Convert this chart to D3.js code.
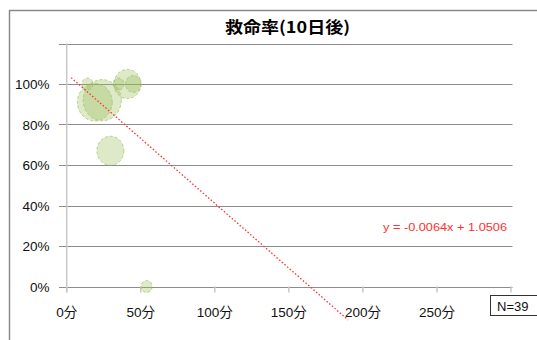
<!DOCTYPE html>
<html><head><meta charset="utf-8">
<script src="https://cdn.jsdelivr.net/npm/d3@7"></script>
<style>
html,body{margin:0;padding:0;background:#fff;}
svg{display:block;}
text{font-family:"Liberation Sans","Noto Sans CJK JP",sans-serif;}
</style></head>
<body>
<script>
const title = "救命率(10日後)";
const times = [14, 19, 24, 35, 41, 45, 29.5, 54];      // 分
const rates = [1.00, 0.91, 0.92, 1.00, 1.00, 1.00, 0.67, 0.00];
const counts = [1, 10, 12, 1, 6, 2, 6, 1];
const xTicks = [0, 50, 100, 150, 200, 250];
const yTicks = [0, 0.2, 0.4, 0.6, 0.8, 1.0, 1.2];
const trendSlope = -0.0064;
const trendIntercept = 1.0506;
const trendRange = [3, 190];
const equationLabel = "y = -0.0064x + 1.0506";
const nLabel = "N=39";

const W = 537, H = 340;
const svg = d3.select("body").append("svg").attr("width", W).attr("height", H);

// chart frame
svg.append("path").attr("d", `M9.5,${H+2} V10.5 H${W+2}`)
  .attr("fill", "none").attr("stroke", "#8a8a8a").attr("stroke-width", 1.5);

const x = d3.scaleLinear().domain([0, 300]).range([66.7, 511]);
const y = d3.scaleLinear().domain([0, 1.2]).range([286.5, 43.5]);
const r = d3.scaleSqrt().domain([0, 1]).range([0, 5.5]);

// title
svg.append("text").attr("x", 287.5).attr("y", 32.5).attr("text-anchor", "middle")
  .attr("font-size", 16).attr("font-weight", "bold").attr("fill", "#000")
  .attr("textLength", 125).attr("lengthAdjust", "spacingAndGlyphs")
  .style("font-family", "'Noto Sans CJK JP',sans-serif")
  .text(title);

// gridlines
svg.append("g").selectAll("line").data(yTicks).join("line")
  .attr("x1", 59).attr("x2", 512.5)
  .attr("y1", d => Math.round(y(d)) + 0.5).attr("y2", d => Math.round(y(d)) + 0.5)
  .attr("stroke", "#8c8c8c").attr("stroke-width", 1.2);

// y axis line
svg.append("line").attr("x1", x(0)).attr("x2", x(0)).attr("y1", y(1.2)).attr("y2", y(0) + 6)
  .attr("stroke", "#c8c8c8").attr("stroke-width", 1.5);

// x ticks
svg.append("g").selectAll("line").data(d3.range(0, 301, 50)).join("line")
  .attr("x1", d => x(d)).attr("x2", d => x(d)).attr("y1", y(0)).attr("y2", y(0) + 6)
  .attr("stroke", "#c8c8c8").attr("stroke-width", 1.5);

// y labels
svg.append("g").selectAll("text").data(yTicks.filter(d => d <= 1.0)).join("text")
  .attr("x", 49.5).attr("y", d => y(d) + 5).attr("text-anchor", "end")
  .attr("font-size", 13.5).attr("fill", "#111")
  .text(d => d3.format(".0%")(d));

// x labels
svg.append("g").selectAll("text").data(xTicks).join("text")
  .attr("x", d => x(d)).attr("y", 317).attr("text-anchor", "middle")
  .attr("font-size", 13.5).attr("fill", "#111")
  .text(d => d + "分");

// bubbles
svg.append("g").selectAll("ellipse").data(times.map((t, i) => ({t, v: rates[i], n: counts[i]}))).join("ellipse")
  .attr("cx", d => x(d.t)).attr("cy", d => y(d.v))
  .attr("rx", d => r(d.n)).attr("ry", d => r(d.n) * 1.08)
  .attr("fill", "rgba(155,187,89,0.33)")
  .attr("stroke", "rgba(155,187,89,0.65)").attr("stroke-width", 1)
  .attr("stroke-dasharray", "3,2");

// trendline
const line = d3.line().x(d => x(d)).y(d => y(trendSlope * d + trendIntercept));
svg.append("path").datum(trendRange).attr("d", line)
  .attr("fill", "none").attr("stroke", "#ff3030").attr("stroke-width", 1.3)
  .attr("stroke-dasharray", "1.5,2");

svg.append("text").attr("x", 383).attr("y", 230.5)
  .attr("font-size", 11).attr("fill", "#ff3030")
  .attr("textLength", 124).attr("lengthAdjust", "spacingAndGlyphs")
  .text(equationLabel);

// N box
svg.append("rect").attr("x", 490.5).attr("y", 295.5).attr("width", 60).attr("height", 20)
  .attr("fill", "#fff").attr("stroke", "#333").attr("stroke-width", 1);
svg.append("text").attr("x", 497).attr("y", 310.5).attr("font-size", 13).attr("fill", "#111")
  .text(nLabel);
</script>
</body></html>
